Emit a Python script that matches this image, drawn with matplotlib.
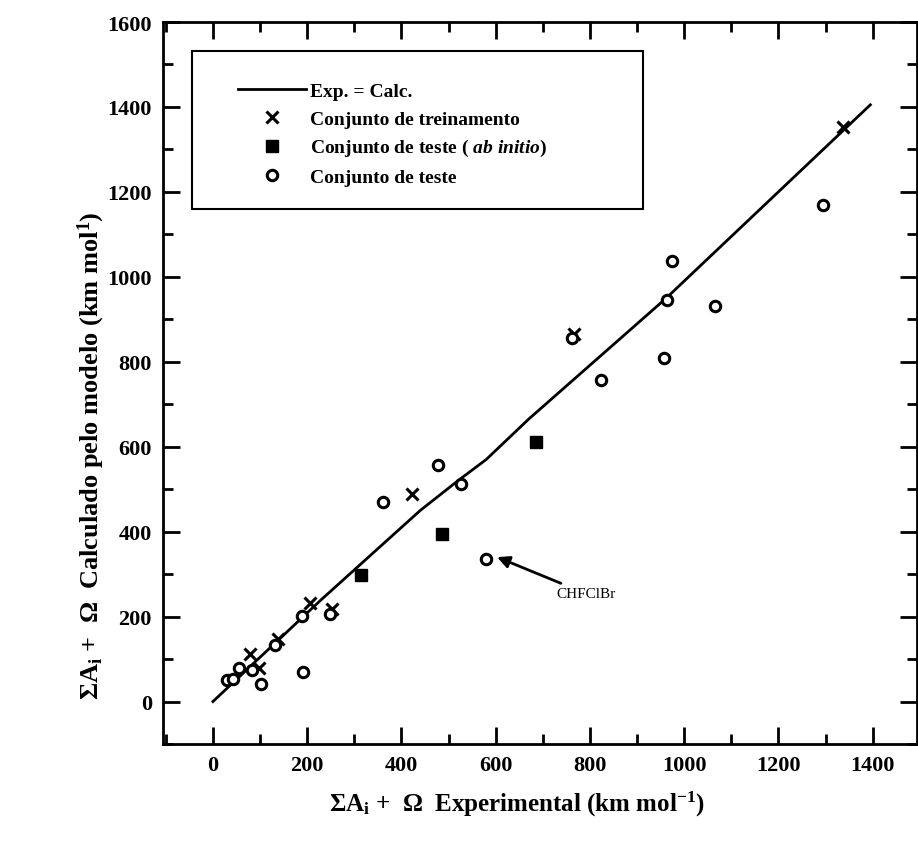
import matplotlib
matplotlib.use("Agg")
import matplotlib.pyplot as plt
from matplotlib.patches import Rectangle
from matplotlib.ticker import MultipleLocator

plt.rcParams['font.family'] = ['Liberation Serif', 'DejaVu Serif']
plt.rcParams['font.weight'] = 'bold'
plt.rcParams['mathtext.fontset'] = 'custom'
plt.rcParams['mathtext.rm'] = 'Liberation Serif:bold'
plt.rcParams['mathtext.bf'] = 'Liberation Serif:bold'
plt.rcParams['mathtext.it'] = 'Liberation Serif:italic:bold'

# Exp. = Calc. curve
line_x = [0, 230, 440, 520, 580, 670, 960, 1295, 1395]
line_y = [0, 240, 450, 520, 570, 665, 948, 1300, 1405]

# Training set (crosses)
train_x = [78, 98, 139, 206, 252, 422, 766, 1337]
train_y = [111, 78, 148, 231, 218, 488, 866, 1352]

# Test set ab initio (filled squares)
abin_x = [315, 485, 685]
abin_y = [299, 395, 611]

# Test set (open circles)
test_x = [29, 43, 56, 82, 101, 132, 188, 192, 248, 361, 478, 527, 579,
          761, 824, 957, 963, 975, 1065, 1294]
test_y = [50, 54, 78, 74, 42, 134, 202, 70, 207, 470, 556, 513, 336,
          855, 756, 810, 946, 1037, 931, 1169]

fig = plt.figure(figsize=(9.18, 8.53), dpi=100)
ax = fig.add_axes([163/918, (853-745)/853, (917-163)/918, (745-23)/853])

ax.plot(line_x, line_y, color='black', lw=2, label='Exp. = Calc.')
ax.plot(train_x, train_y, ls='none', marker='x', ms=8, mew=2.2, color='black',
        label='Conjunto de treinamento')
ax.plot(abin_x, abin_y, ls='none', marker='s', ms=8, color='black',
        label=r'Conjunto de teste ( $\mathit{ab\ initio}$)')
ax.plot(test_x, test_y, ls='none', marker='o', ms=7.5, mew=2.2, mfc='white',
        mec='black', label='Conjunto de teste')

ax.annotate('CHFClBr', xy=(603, 340), xytext=(729, 254),
            fontsize=11, ha='left', va='center', fontweight='normal',
            arrowprops=dict(arrowstyle='-|>', lw=2, color='black',
                            mutation_scale=18, shrinkA=2, shrinkB=0))

ax.set_xlim(-106, 1494)
ax.set_ylim(-100, 1600)
ax.xaxis.set_major_locator(MultipleLocator(200))
ax.xaxis.set_minor_locator(MultipleLocator(100))
ax.yaxis.set_major_locator(MultipleLocator(200))
ax.yaxis.set_minor_locator(MultipleLocator(100))
ax.tick_params(which='both', direction='in', top=True, right=True,
               labelsize=16, width=2)
ax.tick_params(which='major', length=12, pad=8)
ax.tick_params(which='minor', length=7)
for lab in ax.get_xticklabels() + ax.get_yticklabels():
    lab.set_fontweight('bold')
for s in ax.spines.values():
    s.set_linewidth(2)

ax.set_xlabel(r'ΣA$_{\mathrm{i}}$ +  Ω  Experimental (km mol$^{\mathrm{-1}}$)',
              fontsize=18, fontweight='bold')
ax.set_ylabel(r'ΣA$_{\mathrm{i}}$ +  Ω  Calculado pelo modelo (km mol$^{\mathrm{1}}$)',
              fontsize=19, fontweight='bold')
ax.xaxis.set_label_coords(0.47, -0.062)
ax.yaxis.set_label_coords(-0.074, 0.40)

# Legend box
ax.add_patch(Rectangle((0.038, 0.741), 0.599, 0.219, transform=ax.transAxes,
                       fill=False, lw=1.5, edgecolor='black', zorder=5))
leg = ax.legend(loc='upper left', bbox_to_anchor=(0.10, 0.916), frameon=False,
                fontsize=14, handlelength=3.5, handletextpad=0.2,
                labelspacing=0.5, borderpad=0, borderaxespad=0)

fig.savefig('out.png', dpi=100)
